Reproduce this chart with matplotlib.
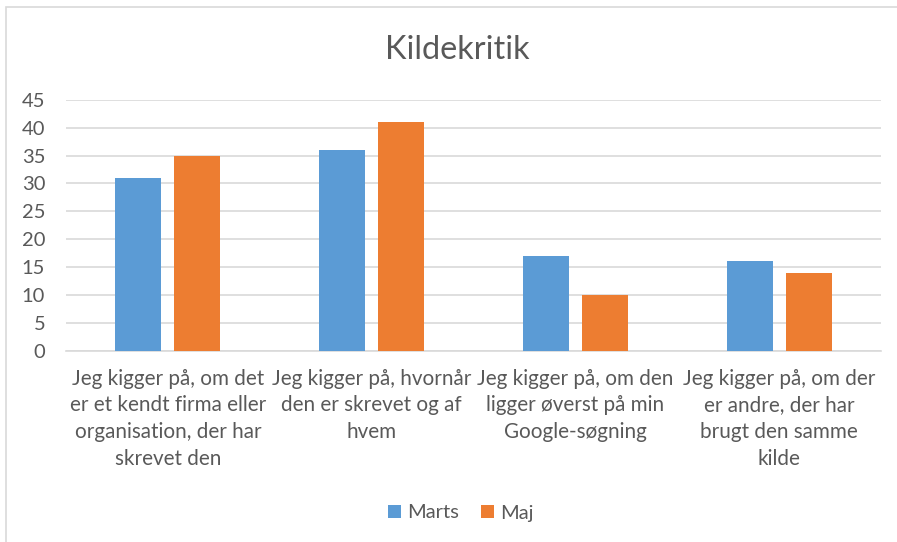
import matplotlib.pyplot as plt
import numpy as np
from matplotlib.patches import Rectangle

plt.rcParams['font.family'] = ['Lato', 'DejaVu Sans']

categories = [
    "Jeg kigger på, om det\ner et kendt firma eller\norganisation, der har\nskrevet den",
    "Jeg kigger på, hvornår\nden er skrevet og af\nhvem",
    "Jeg kigger på, om den\nligger øverst på min\nGoogle-søgning",
    "Jeg kigger på, om der\ner andre, der har\nbrugt den samme\nkilde",
]
marts = [31, 36, 17, 16]
maj = [35, 41, 10, 14]
yticks = list(range(0, 50, 5))

blue = "#5B9BD5"
orange = "#ED7D31"
grey_text = "#595959"
grid = "#D9D9D9"

W, H = 897, 542
fig = plt.figure(figsize=(W / 100, H / 100), dpi=100)

# chart frame (only left/top visible in the crop)
fig.patches.append(Rectangle((6 / W, -0.1), 1.2, (H - 7) / H + 0.1, transform=fig.transFigure,
                             fill=False, edgecolor=grid, linewidth=1.2))

ax = fig.add_axes([66 / W, (H - 350.5) / H, 815 / W, 250.5 / H])
x = np.arange(len(categories))
bw = 0.226
gap = 0.064
ax.bar(x - (bw + gap) / 2, marts, bw, color=blue, label="Marts", zorder=3)
ax.bar(x + (bw + gap) / 2, maj, bw, color=orange, label="Maj", zorder=3)

ax.set_xlim(-0.5, len(categories) - 0.5)
ax.set_ylim(0, 45)
ax.set_yticks(yticks)
ax.set_xticks(x)
ax.set_xticklabels(categories, fontsize=14.9, color=grey_text, linespacing=1.42)
ax.tick_params(axis='x', length=0, pad=13)
ax.tick_params(axis='y', length=0, pad=15, labelsize=14.5, labelcolor=grey_text)
for t in ax.get_yticklabels():
    t.set_ha('right')

ax.yaxis.grid(True, color=grid, linewidth=1.2, zorder=0)
for s in ['top', 'right', 'left']:
    ax.spines[s].set_visible(False)
ax.spines['bottom'].set_color(grid)
ax.spines['bottom'].set_linewidth(1.2)

fig.text(457 / W, 1 - 50 / H, "Kildekritik", ha='center', va='center', fontsize=23.3, color=grey_text)

fig.legend(loc='center', bbox_to_anchor=(461 / W, 1 - 513 / H), ncol=2, frameon=False,
           fontsize=14.5, labelcolor=grey_text, handlelength=0.65, handleheight=0.65,
           handletextpad=0.3, columnspacing=1.1)

fig.savefig("out.png", dpi=100)
